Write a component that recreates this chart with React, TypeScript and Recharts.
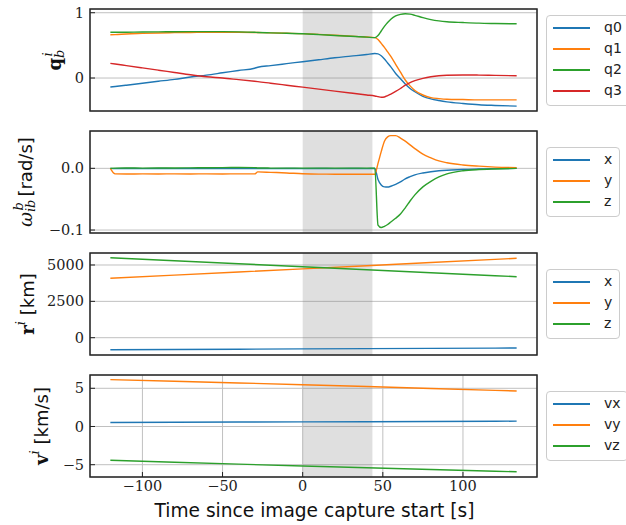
import { LineChart, Line, XAxis, YAxis, CartesianGrid, ReferenceArea } from 'recharts';

// time axis for attitude panels [s]
const time = [-120, -117, -110, -100, -90, -80, -70, -60, -50, -40, -30, -28, -20, -10, 0, 10, 20, 30, 40, 45,
    47, 49, 51, 53, 55, 58, 61, 64, 67, 70, 75, 80, 85, 90, 100, 110, 120, 133.5];

const q0 = [-0.138, -0.13, -0.11, -0.08, -0.05, -0.02, 0.015, 0.045, 0.08, 0.115, 0.15, 0.165, 0.19, 0.22, 0.25, 0.28, 0.31, 0.335, 0.36, 0.375,
    0.37, 0.34, 0.29, 0.23, 0.17, 0.07, -0.01, -0.09, -0.16, -0.21, -0.28, -0.32, -0.345, -0.365, -0.39, -0.41, -0.42, -0.43];
const q1 = [0.663, 0.665, 0.675, 0.683, 0.69, 0.695, 0.698, 0.7, 0.7, 0.7, 0.697, 0.696, 0.692, 0.686, 0.68, 0.668, 0.655, 0.642, 0.628, 0.618,
    0.59, 0.53, 0.47, 0.4, 0.33, 0.21, 0.09, -0.03, -0.12, -0.19, -0.26, -0.3, -0.315, -0.325, -0.33, -0.335, -0.335, -0.335];
const q2 = [0.7, 0.7, 0.702, 0.705, 0.707, 0.708, 0.71, 0.71, 0.71, 0.707, 0.7, 0.698, 0.692, 0.685, 0.677, 0.665, 0.652, 0.64, 0.627, 0.618,
    0.65, 0.72, 0.79, 0.85, 0.9, 0.95, 0.975, 0.985, 0.978, 0.96, 0.925, 0.895, 0.875, 0.862, 0.85, 0.84, 0.835, 0.83];
const q3 = [0.225, 0.215, 0.19, 0.155, 0.12, 0.085, 0.05, 0.02, 0.0, -0.025, -0.05, -0.055, -0.08, -0.11, -0.14, -0.17, -0.2, -0.23, -0.26, -0.275,
    -0.285, -0.295, -0.29, -0.27, -0.245, -0.205, -0.16, -0.11, -0.07, -0.04, -0.005, 0.02, 0.035, 0.042, 0.046, 0.045, 0.04, 0.035];

const wx = [0, -0.0004, -0.0003, -0.0004, -0.0003, -0.0004, -0.0003, -0.0004, -0.0003, -0.0004, -0.0003, -0.0003, -0.0004, -0.0003, -0.0004, -0.0003, -0.0004, -0.0003, -0.0004, -0.0003,
    -0.018, -0.027, -0.03, -0.0303, -0.029, -0.026, -0.022, -0.017, -0.0135, -0.0105, -0.0075, -0.0055, -0.004, -0.003, -0.002, -0.001, -0.0005, 0];
const wy = [0, -0.009, -0.0092, -0.009, -0.0091, -0.009, -0.0091, -0.009, -0.0091, -0.009, -0.009, -0.0058, -0.0065, -0.0075, -0.0088, -0.0094, -0.0095, -0.0096, -0.0096, -0.0096,
    0.008, 0.027, 0.044, 0.051, 0.053, 0.053, 0.049, 0.044, 0.038, 0.032, 0.023, 0.017, 0.012, 0.009, 0.0055, 0.0035, 0.002, 0.001];
const wz = [0, 0.0003, 0.0005, 0.0004, 0.0006, 0.0005, 0.0008, 0.001, 0.0012, 0.0013, 0.0012, 0.0006, 0.0004, 0.0003, 0.0004, 0.0003, 0.0004, 0.0003, 0.0004, 0.0003,
    -0.092, -0.096, -0.094, -0.091, -0.087, -0.081, -0.074, -0.064, -0.053, -0.043, -0.03, -0.021, -0.014, -0.009, -0.004, -0.002, -0.001, 0];

// orbit panels
const orbitTime = [-120, -80, -40, 0, 40, 80, 120, 133.5];
const rx = [-826, -808, -790, -771, -752, -734, -715, -709];
const ry = [4084, 4300, 4518, 4736, 4952, 5170, 5387, 5460];
const rz = [5500, 5295, 5088, 4882, 4676, 4470, 4264, 4195];
const vx = [0.52, 0.55, 0.58, 0.61, 0.63, 0.66, 0.69, 0.7];
const vy = [6.13, 5.92, 5.7, 5.47, 5.23, 4.98, 4.73, 4.65];
const vz = [-4.42, -4.68, -4.93, -5.17, -5.4, -5.62, -5.85, -5.93];

const xTicks = [-100, -50, 0, 50, 100];
const capture = [0, 43.5];

const C = ['#1f77b4', '#ff7f0e', '#2ca02c', '#d62728'];
const X_DOMAIN = [-132.7, 146.2];
const PLOT_H = 102;

const minus = (s: string) => s.replace('-', '\u2212');
const fmtInt = (v: number) => minus(String(Math.round(v)));
const fmt1 = (v: number) => minus(v.toFixed(1));

const rows = (t: number[], series: { key: string; values: number[] }[]) =>
    t.map((tt, i) => {
        const r: any = { t: tt };
        series.forEach((s) => { r[s.key] = s.values[i]; });
        return r;
    });

const YTitle = ({ cx, cy, kind }: any) => {
    const serif = 'DejaVu Serif';
    let parts;
    if (kind === 'q') {
        parts = [
            <tspan key="a" fontFamily={serif} fontWeight="bold">q</tspan>,
            <tspan key="b" fontFamily={serif} fontStyle="italic" fontSize={13} dy={5}>b</tspan>,
            <tspan key="c" fontFamily={serif} fontStyle="italic" fontSize={13} dx={-7} dy={-12}>i</tspan>,
        ];
    } else if (kind === 'w') {
        parts = [
            <tspan key="a" fontFamily={serif} fontStyle="italic">ω</tspan>,
            <tspan key="b" fontFamily={serif} fontStyle="italic" fontSize={13} dy={5}>ib</tspan>,
            <tspan key="c" fontFamily={serif} fontStyle="italic" fontSize={13} dx={-11} dy={-12}>b</tspan>,
            <tspan key="d" dy={7}> [rad/s]</tspan>,
        ];
    } else {
        parts = [
            <tspan key="a" fontFamily={serif} fontWeight="bold">{kind === 'r' ? 'r' : 'v'}</tspan>,
            <tspan key="b" fontFamily={serif} fontStyle="italic" fontSize={13} dy={-7}>i</tspan>,
            <tspan key="c" dy={7}>{kind === 'r' ? ' [km]' : ' [km/s]'}</tspan>,
        ];
    }
    return (
        <text transform={`translate(${cx},${cy}) rotate(-90)`} textAnchor="middle" dominantBaseline="central"
            fill="#111" fontSize={18} fontFamily="DejaVu Sans">
            {parts}
        </text>
    );
};

const XTitle = () => (
    <text x={314.5} y={143} textAnchor="middle" dominantBaseline="central" fill="#111" fontSize={18.6} fontFamily="DejaVu Sans">
        Time since image capture start [s]
    </text>
);

const LegendBox = ({ items, centerY, width }: any) => {
    const h = items.length * 21 + 7;
    return (
        <div style={{
            position: 'absolute', left: 546, top: Math.round(centerY - h / 2), width, height: h, boxSizing: 'border-box',
            border: '1px solid #cccccc', borderRadius: 4, background: 'rgba(255,255,255,0.8)', padding: '1px 0 4px',
            fontFamily: 'DejaVu Sans', fontSize: 14, color: '#222',
        }}>
            {items.map((s: any) => (
                <div key={s.key} style={{ display: 'flex', alignItems: 'center', height: 21 }}>
                    <span style={{ display: 'block', marginLeft: 6, width: 37, height: 2, background: s.color }} />
                    <span style={{ marginLeft: 14, lineHeight: '21px' }}>{s.name}</span>
                </div>
            ))}
        </div>
    );
};

const Panel = ({ top, data, series, yDomain, yTicks, yFormat, kind, labelX, showX, curve, legendWidth }: any) => {
    const h = 8 + PLOT_H + (showX ? 48 : 8);
    return (
        <>
            <div style={{ position: 'absolute', left: 0, top: top - 8 }}>
                <LineChart width={626} height={h} data={data} margin={{ top: 8, right: 89, bottom: showX ? 0 : 7, left: 0 }}>
                    <CartesianGrid stroke="#c0c0c0" strokeWidth={1} />
                    <ReferenceArea x1={capture[0]} x2={capture[1]} fill="#808080" fillOpacity={0.25} stroke="none" />
                    <XAxis dataKey="t" type="number" domain={X_DOMAIN} allowDataOverflow ticks={xTicks} interval={0}
                        height={showX ? 48 : 1} tickSize={-5} tickMargin={9} axisLine={false}
                        tickLine={{ stroke: '#222' }}
                        tick={showX ? { fill: '#222', fontSize: 14.5, fontFamily: 'DejaVu Serif' } : false}
                        tickFormatter={fmtInt} label={showX ? <XTitle /> : undefined} />
                    <YAxis type="number" domain={yDomain} allowDataOverflow ticks={yTicks} interval={0} width={90}
                        tickSize={-5} tickMargin={11} axisLine={false} tickLine={{ stroke: '#222' }}
                        tick={{ fill: '#222', fontSize: 14.5, fontFamily: 'DejaVu Serif' }} tickFormatter={yFormat}
                        label={<YTitle cx={labelX} cy={8 + PLOT_H / 2} kind={kind} />} />
                    {series.map((s: any) => (
                        <Line key={s.key} dataKey={s.key} type={curve} stroke={s.color} strokeWidth={1.4}
                            dot={false} isAnimationActive={false} />
                    ))}
                    <ReferenceArea x1={X_DOMAIN[0]} x2={X_DOMAIN[1]} y1={yDomain[0]} y2={yDomain[1]} fill="none"
                        stroke="#262626" strokeWidth={1.5} ifOverflow="visible" />
                </LineChart>
            </div>
            <LegendBox items={series} centerY={top + PLOT_H / 2} width={legendWidth} />
        </>
    );
};

const quatSeries = [
    { key: 'q0', name: 'q0', color: C[0], values: q0 },
    { key: 'q1', name: 'q1', color: C[1], values: q1 },
    { key: 'q2', name: 'q2', color: C[2], values: q2 },
    { key: 'q3', name: 'q3', color: C[3], values: q3 },
];
const rateSeries = [
    { key: 'wx', name: 'x', color: C[0], values: wx },
    { key: 'wy', name: 'y', color: C[1], values: wy },
    { key: 'wz', name: 'z', color: C[2], values: wz },
];
const posSeries = [
    { key: 'rx', name: 'x', color: C[0], values: rx },
    { key: 'ry', name: 'y', color: C[1], values: ry },
    { key: 'rz', name: 'z', color: C[2], values: rz },
];
const velSeries = [
    { key: 'vx', name: 'vx', color: C[0], values: vx },
    { key: 'vy', name: 'vy', color: C[1], values: vy },
    { key: 'vz', name: 'vz', color: C[2], values: vz },
];

export default function App() {
    return (
        <div style={{ position: 'relative', width: 626, height: 525, overflow: 'hidden', background: '#fff' }}>
            <style>{'body{margin:0}'}</style>
            <Panel top={9} data={rows(time, quatSeries)} series={quatSeries} yDomain={[-0.505, 1.057]} yTicks={[0, 1]}
                yFormat={fmtInt} kind="q" labelX={54} curve="monotone" legendWidth={92} />
            <Panel top={131} data={rows(time, rateSeries)} series={rateSeries} yDomain={[-0.1048, 0.0605]} yTicks={[-0.1, 0]}
                yFormat={fmt1} kind="w" labelX={25} curve="monotone" legendWidth={74} />
            <Panel top={253} data={rows(orbitTime, posSeries)} series={posSeries} yDomain={[-1190, 5825]} yTicks={[0, 2500, 5000]}
                yFormat={fmtInt} kind="r" labelX={27} curve="linear" legendWidth={74} />
            <Panel top={375} data={rows(orbitTime, velSeries)} series={velSeries} yDomain={[-6.61, 6.74]} yTicks={[-5, 0, 5]}
                yFormat={fmtInt} kind="v" labelX={41} curve="linear" legendWidth={82} showX />
        </div>
    );
}
